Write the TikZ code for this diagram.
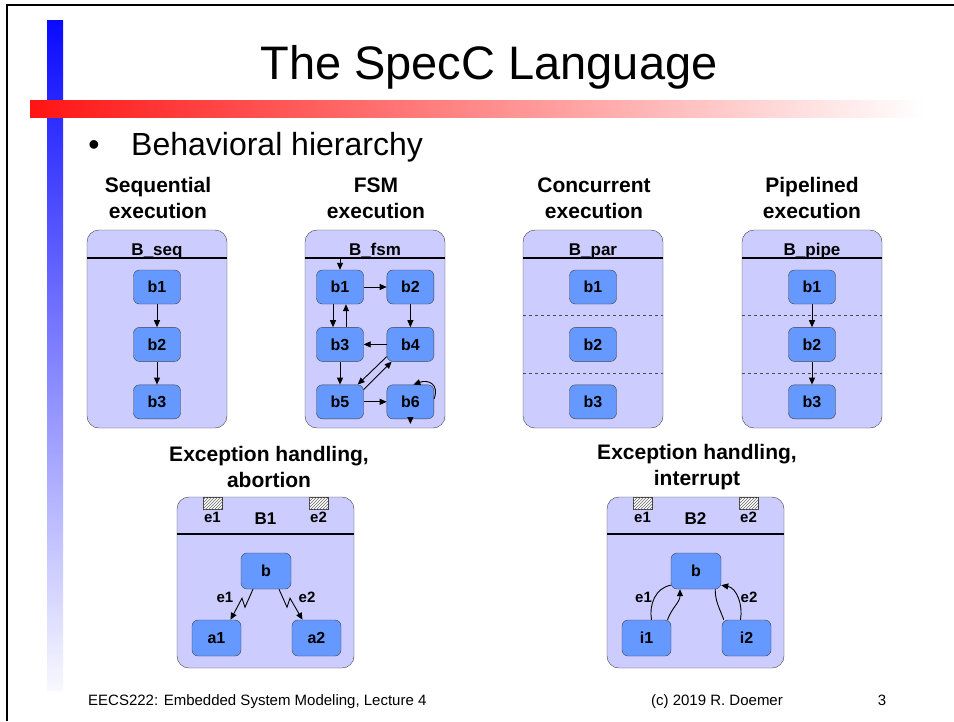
\documentclass[tikz,border=0pt]{standalone}
\usepackage{fontspec}
\setmainfont{Liberation Sans}
\usetikzlibrary{arrows.meta,patterns,positioning}

\definecolor{boxlav}{RGB}{204,204,255}
\definecolor{boxblue}{RGB}{102,153,255}
\definecolor{barred}{RGB}{255,20,20}
\definecolor{barblue}{RGB}{10,10,255}
\definecolor{barmid}{RGB}{175,175,255}
\definecolor{barpale}{RGB}{248,248,255}

\begin{document}
\begin{tikzpicture}
        [
            x = 1pt, y = -1pt,
            outerbox/.style = {draw = black!75, fill = boxlav, rounded corners = 12pt, inner sep = 0pt,
                               minimum width = 140pt, minimum height = 198pt},
            excbox/.style   = {outerbox, minimum width = 177pt, minimum height = 171pt},
            beh/.style      = {draw = black!75, fill = boxblue, rounded corners = 6pt, inner sep = 0pt,
                               minimum width = 47pt, minimum height = 34pt,
                               font = \bfseries\fontsize{16}{16}\selectfont},
            bigbeh/.style   = {beh, minimum width = 49pt, minimum height = 36pt},
            bname/.style    = {anchor = base, inner sep = 0pt, font = \bfseries\fontsize{17}{17}\selectfont},
            heading/.style  = {align = center, inner sep = 0pt, font = \bfseries\fontsize{21}{26}\selectfont},
            evname/.style   = {inner sep = 0pt, font = \bfseries\fontsize{15}{15}\selectfont},
            evport/.style   = {draw = black!75, fill = white, inner sep = 0pt, anchor = north,
                               postaction = {pattern = north east lines, pattern color = black!60},
                               minimum width = 19pt, minimum height = 12pt},
            flowline/.style = {draw = black, line width = 0.9pt},
            flow/.style     = {flowline, -{Triangle[length = 7pt, width = 6pt]}},
            hdrline/.style  = {draw = black, line width = 1.8pt},
            parline/.style  = {draw = black!70, dashed, line width = 0.7pt},
            foot/.style     = {anchor = base, inner sep = 0pt, font = \fontsize{15}{15}\selectfont}
        ]

        \useasboundingbox (0,0) rectangle (954,721);
        \fill[white] (0,0) rectangle (954,721);

        % slide decoration
        \shade[top color = barblue, middle color = barmid, bottom color = barpale] (47,20) rectangle (63,690);
        \shade[left color = barred, right color = white] (30,100) rectangle (925,117);
        \draw[line width = 2.5pt] (954,5) -- (7,5) -- (7,721);

        \node[anchor = base, inner sep = 0pt] (title) at (489,79) {\fontsize{47}{47}\selectfont The SpecC Language};
        \node[anchor = base, inner sep = 0pt] (bullet) at (94,155) {\fontsize{32}{32}\selectfont\textbullet};
        \node[anchor = base west, inner sep = 0pt] (topic) at (131,155) {\fontsize{32}{32}\selectfont Behavioral hierarchy};

        % headings
        \node[heading] (hseq) at (158,198) {Sequential\\execution};
        \node[heading] (hfsm) at (376,198) {FSM\\execution};
        \node[heading] (hpar) at (594,198) {Concurrent\\execution};
        \node[heading] (hpipe) at (812,198) {Pipelined\\execution};
        \node[heading] (habort) at (269,467) {Exception handling,\\abortion};
        \node[heading] (hintr) at (697,467) {Exception handling,\\interrupt};

        % sequential
        \node[outerbox] (seq) at (157,329) {};
        \draw[hdrline] ([yshift = -28pt]seq.north west) -- ([yshift = -28pt]seq.north east);
        \node[bname] (seqname) at ([yshift = -26pt]seq.north) {B\_seq};
        \node[beh] (s1) at (157,287) {b1};
        \node[beh, below = 23pt of s1] (s2) {b2};
        \node[beh, below = 23pt of s2] (s3) {b3};
        \draw[flow] (s1) -- (s2);
        \draw[flow] (s2) -- (s3);

        % fsm
        \node[outerbox] (fsm) at (375,329) {};
        \draw[hdrline] ([yshift = -28pt]fsm.north west) -- ([yshift = -28pt]fsm.north east);
        \node[bname] (fsmname) at ([yshift = -26pt]fsm.north) {B\_fsm};
        \node[beh] (f1) at (340,287) {b1};
        \node[beh, right = 23pt of f1] (f2) {b2};
        \node[beh, below = 23pt of f1] (f3) {b3};
        \node[beh, below = 23pt of f2] (f4) {b4};
        \node[beh, below = 23pt of f3] (f5) {b5};
        \node[beh, below = 23pt of f4] (f6) {b6};
        \coordinate (finit) at ([yshift = -28pt]fsm.north -| f1);
        \draw[flow] (finit) -- (f1.north);
        \draw[flow] (f1) -- (f2);
        \draw[flow] (f2) -- (f4);
        \draw[flow] (f4) -- (f3);
        \draw[flow] ([xshift = -7pt]f1.south) -- ([xshift = -7pt]f3.north);
        \draw[flow] ([xshift = 6pt]f3.north) -- ([xshift = 6pt]f1.south);
        \draw[flow] (f3) -- (f5);
        \draw[flow] (f5) -- (f6);
        \draw[flow] ([yshift = 5pt]f4.south west) -- ([xshift = -6pt]f5.north east);
        \draw[flow] ([yshift = -5pt]f5.north east) -- ([xshift = 5pt]f4.south west);
        \draw[flow] ([yshift = 3pt]f6.east) to[out = 70, in = 20, looseness = 1.6] ([xshift = 3pt]f6.north);
        \draw[flow] (f6.south) -- ([yshift = -5pt]f6.south);

        % concurrent
        \node[outerbox] (par) at (593,329) {};
        \draw[hdrline] ([yshift = -28pt]par.north west) -- ([yshift = -28pt]par.north east);
        \node[bname] (parname) at ([yshift = -26pt]par.north) {B\_par};
        \node[beh] (p1) at (593,287) {b1};
        \node[beh, below = 23pt of p1] (p2) {b2};
        \node[beh, below = 23pt of p2] (p3) {b3};
        \path (p1.south) -- (p2.north) coordinate[midway] (pcut1);
        \path (p2.south) -- (p3.north) coordinate[midway] (pcut2);
        \draw[parline] (par.west |- pcut1) -- (par.east |- pcut1);
        \draw[parline] (par.west |- pcut2) -- (par.east |- pcut2);

        % pipelined
        \node[outerbox] (pipe) at (812,329) {};
        \draw[hdrline] ([yshift = -28pt]pipe.north west) -- ([yshift = -28pt]pipe.north east);
        \node[bname] (pipename) at ([yshift = -26pt]pipe.north) {B\_pipe};
        \node[beh] (q1) at (812,287) {b1};
        \node[beh, below = 23pt of q1] (q2) {b2};
        \node[beh, below = 23pt of q2] (q3) {b3};
        \path (q1.south) -- (q2.north) coordinate[midway] (qcut1);
        \path (q2.south) -- (q3.north) coordinate[midway] (qcut2);
        \draw[parline] (pipe.west |- qcut1) -- (pipe.east |- qcut1);
        \draw[parline] (pipe.west |- qcut2) -- (pipe.east |- qcut2);
        \draw[flow] (q1) -- (q2);
        \draw[flow] (q2) -- (q3);

        % abortion
        \node[excbox] (abort) at (265.5,582.5) {};
        \draw[hdrline] ([yshift = -37pt]abort.north west) -- ([yshift = -37pt]abort.north east);
        \node[bname] (abortname) at ([yshift = -28pt]abort.north) {B1};
        \node[evport] (aport1) at ([xshift = -53pt]abort.north) {};
        \node[evport] (aport2) at ([xshift = 53pt]abort.north) {};
        \node[evname, anchor = base] (aev1) at ([yshift = -13pt]aport1.south) {e1};
        \node[evname, anchor = base] (aev2) at ([yshift = -13pt]aport2.south) {e2};
        \node[bigbeh, minimum width = 50pt] (ab) at (266,571) {b};
        \node[bigbeh] (aa1) at (216.5,638) {a1};
        \node[bigbeh] (aa2) at (316.5,638) {a2};
        \draw[flow] ([xshift = -13pt]ab.south) -- ++(-8,18) -- ++(-3,-9) -- ([xshift = 14pt]aa1.north);
        \draw[flow] ([xshift = 13pt]ab.south) -- ++(8,18) -- ++(3,-9) -- ([xshift = -14pt]aa2.north);
        \node[evname] (alab1) at (225,597.5) {e1};
        \node[evname] (alab2) at (307,597.5) {e2};

        % interrupt
        \node[excbox] (intr) at (695.5,582.5) {};
        \draw[hdrline] ([yshift = -37pt]intr.north west) -- ([yshift = -37pt]intr.north east);
        \node[bname] (intrname) at ([yshift = -28pt]intr.north) {B2};
        \node[evport] (iport1) at ([xshift = -53pt]intr.north) {};
        \node[evport] (iport2) at ([xshift = 53pt]intr.north) {};
        \node[evname, anchor = base] (iev1) at ([yshift = -13pt]iport1.south) {e1};
        \node[evname, anchor = base] (iev2) at ([yshift = -13pt]iport2.south) {e2};
        \node[bigbeh, minimum width = 50pt] (ib) at (696,571) {b};
        \node[bigbeh] (ii1) at (646.5,638) {i1};
        \node[bigbeh] (ii2) at (746.5,638) {i2};
        \draw[flowline] ([xshift = 5pt]ii1.north) to[out = 100, in = 190] ([yshift = 4pt]ib.south west);
        \draw[flow] ([xshift = 21pt]ii1.north) to[out = 70, in = -90] ([xshift = -16pt]ib.south);
        \draw[flowline] ([xshift = 2pt]ii2.north west) to[out = 110, in = -90] ([xshift = -6pt]ib.south east);
        \draw[flow] ([xshift = -6pt]ii2.north) to[out = 80, in = -10] ([yshift = 4pt]ib.south east);
        \node[evname] (ilab1) at (643.5,597.5) {e1};
        \node[evname] (ilab2) at (749,597.5) {e2};

        % footer
        \node[foot, anchor = base west] (course) at (88,705) {EECS222: Embedded System Modeling, Lecture 4};
        \node[foot] (author) at (717,705) {(c) 2019 R. Doemer};
        \node[foot] (page) at (882,705) {3};
\end{tikzpicture}
\end{document}
